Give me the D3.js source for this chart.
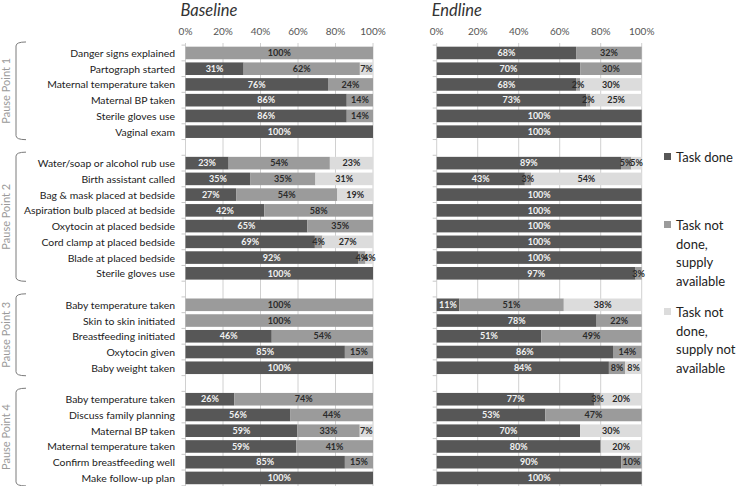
<!DOCTYPE html>
<html><head><meta charset="utf-8">
<script src="https://cdn.jsdelivr.net/npm/d3@7"></script>
<style>body{margin:0;background:#fff}svg{display:block}</style>
</head><body>
<svg id="chart" width="738" height="486"></svg>
<script>
// ---------- DATA ----------
const groupNames = ["Pause Point 1", "Pause Point 2", "Pause Point 3", "Pause Point 4"];
const groupRows = [
  ["Danger signs explained", "Partograph started", "Maternal temperature taken", "Maternal BP taken", "Sterile gloves use", "Vaginal exam"],
  ["Water/soap or alcohol rub use", "Birth assistant called", "Bag & mask placed at bedside", "Aspiration bulb placed at bedside", "Oxytocin at placed bedside", "Cord clamp at placed bedside", "Blade at placed bedside", "Sterile gloves use"],
  ["Baby temperature taken", "Skin to skin initiated", "Breastfeeding initiated", "Oxytocin given", "Baby weight taken"],
  ["Baby temperature taken", "Discuss family planning", "Maternal BP taken", "Maternal temperature taken", "Confirm breastfeeding well", "Make follow-up plan"]
];
const seriesNames = ["Task done", "Task not done, supply available", "Task not done, supply not available"];
const legendLines = [["Task done"], ["Task not", "done,", "supply", "available"], ["Task not", "done,", "supply not", "available"]];
const panelTitles = ["Baseline", "Endline"];
const tickValues = [0, 20, 40, 60, 80, 100];

const baselineDone     = [0, 31, 76, 86, 86, 100,  23, 35, 27, 42, 65, 69, 92, 100,  0, 0, 46, 85, 100,  26, 56, 59, 59, 85, 100];
const baselineAvail    = [100, 62, 24, 14, 14, 0,  54, 35, 54, 58, 35, 4, 4, 0,     100, 100, 54, 15, 0,  74, 44, 33, 41, 15, 0];
const baselineNotAvail = [0, 7, 0, 0, 0, 0,        23, 31, 19, 0, 0, 27, 4, 0,      0, 0, 0, 0, 0,        0, 0, 7, 0, 0, 0];

const endlineDone      = [68, 70, 68, 73, 100, 100, 89, 43, 100, 100, 100, 100, 100, 97,  11, 78, 51, 86, 84,  77, 53, 70, 80, 90, 100];
const endlineAvail     = [32, 30, 2, 2, 0, 0,       5, 3, 0, 0, 0, 0, 0, 3,               51, 22, 49, 14, 8,   3, 47, 0, 0, 10, 0];
const endlineNotAvail  = [0, 0, 30, 25, 0, 0,       5, 54, 0, 0, 0, 0, 0, 0,              38, 0, 0, 0, 8,      20, 0, 30, 20, 0, 0];

// ---------- LAYOUT ----------
const colors = ["#575757", "#9b9b9b", "#dcdcdc"];
const labelColors = ["#f2f2f2", "#2b2b2b", "#2b2b2b"];
const font = "Lato, 'Open Sans', sans-serif";

const svg = d3.select("#chart");

const rowKeys = [];
const rowInfo = [];
let dataIdx = 0;
groupRows.forEach((rows, g) => {
  rows.forEach((r, k) => {
    const key = `g${g}-r${k}`;
    rowKeys.push(key);
    rowInfo.push({key, label: r, group: g, idx: dataIdx++});
  });
  if (g < groupRows.length - 1) rowKeys.push(`gap${g}`);
});

const y = d3.scaleBand().domain(rowKeys).range([45.1, 485.8]).paddingInner(0.2).paddingOuter(0.1);

const panels = [
  {title: panelTitles[0], x: d3.scaleLinear([0, 100], [185.5, 373]), series: [baselineDone, baselineAvail, baselineNotAvail]},
  {title: panelTitles[1], x: d3.scaleLinear([0, 100], [436.7, 641.7]), series: [endlineDone, endlineAvail, endlineNotAvail]}
];

panels.forEach(p => {
  const g = svg.append("g");
  const x = p.x;
  g.append("text").attr("x", x(0) - 5).attr("y", 16)
    .attr("font-family", font).attr("font-style", "italic").attr("font-size", 16.5)
    .attr("fill", "#333").text(p.title);
  g.selectAll(".tl").data(tickValues).join("text")
    .attr("x", d => x(d)).attr("y", 35).attr("text-anchor", "middle")
    .attr("font-family", font).attr("font-size", 10).attr("fill", "#555")
    .text(d => d + "%");
  g.selectAll(".gl").data(tickValues).join("line")
    .attr("x1", d => x(d)).attr("x2", d => x(d)).attr("y1", 43).attr("y2", 486)
    .attr("stroke", "#d0d0d0").attr("stroke-width", 1);
  const tickYs = rowKeys.map(k => y(k) - y.step() * y.paddingInner() / 2).concat([y(rowKeys[rowKeys.length - 1]) + y.bandwidth() + y.step() * 0.1]);
  g.selectAll(".ct").data(tickYs).join("line")
    .attr("x1", x(0) - 4).attr("x2", x(0)).attr("y1", d => d).attr("y2", d => d)
    .attr("stroke", "#c8c8c8");

  rowInfo.forEach(r => {
    const vals = p.series.map(s => s[r.idx]);
    const total = d3.sum(vals) || 1;
    let cum = 0;
    const segs = vals.map((v, si) => {
      const s = {v, si, x0: x(cum / total * 100), x1: x((cum + v) / total * 100)};
      cum += v;
      return s;
    }).filter(s => s.v > 0);
    g.selectAll(null).data(segs).join("rect")
      .attr("x", s => s.x0).attr("y", y(r.key)).attr("width", s => s.x1 - s.x0).attr("height", y.bandwidth())
      .attr("fill", s => colors[s.si]);
    g.selectAll(null).data(segs).join("text")
      .attr("x", s => (s.x0 + s.x1) / 2).attr("y", y(r.key) + y.bandwidth() / 2 + 3.2)
      .attr("text-anchor", "middle").attr("font-family", font).attr("font-weight", "bold")
      .attr("font-size", 9).attr("fill", s => labelColors[s.si]).text(s => s.v + "%");
  });
});

svg.selectAll(".rl").data(rowInfo).join("text")
  .attr("x", 175).attr("y", d => y(d.key) + y.bandwidth() / 2 + 4)
  .attr("text-anchor", "end").attr("font-family", font).attr("font-size", 10.4).attr("fill", "#222")
  .text(d => d.label);

groupRows.forEach((rows, gi) => {
  const first = y(`g${gi}-r0`) + y.bandwidth() / 2;
  const last = y(`g${gi}-r${rows.length - 1}`) + y.bandwidth() / 2;
  const top = first - 11, bot = last + 8, bx = 16;
  svg.append("path")
    .attr("d", `M${bx + 10},${top} Q${bx},${top} ${bx},${top + 4} L${bx},${bot - 4} Q${bx},${bot} ${bx + 10},${bot}`)
    .attr("fill", "none").attr("stroke", "#7a7a7a").attr("stroke-width", 1);
  const cy = (top + bot) / 2;
  svg.append("text").attr("transform", `translate(10,${cy}) rotate(-90)`)
    .attr("text-anchor", "middle").attr("font-family", font).attr("font-size", 11).attr("fill", "#9a9a9a")
    .text(groupNames[gi]);
});

const legendTops = [157, 225, 312];
legendLines.forEach((lines, i) => {
  const ly = legendTops[i];
  svg.append("rect").attr("x", 664).attr("y", ly - 4).attr("width", 7).attr("height", 7).attr("fill", colors[i]);
  lines.forEach((t, j) => {
    svg.append("text").attr("x", 676).attr("y", ly + 5 + j * 18.7)
      .attr("font-family", font).attr("font-size", 13).attr("fill", "#222").text(t);
  });
});
</script>
</body></html>
